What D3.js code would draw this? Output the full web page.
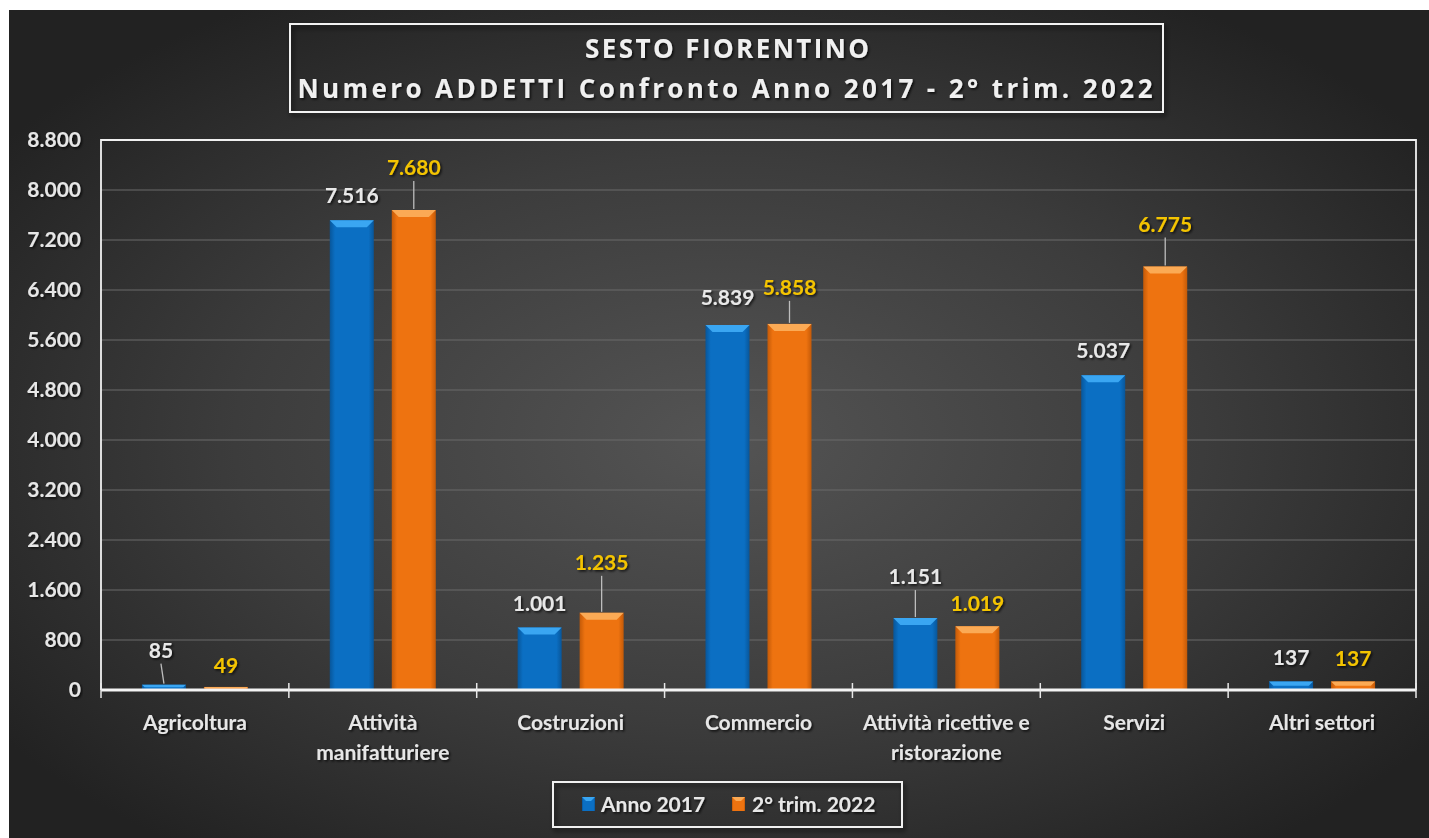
<!DOCTYPE html>
<html>
<head>
<meta charset="utf-8">
<script src="https://cdn.jsdelivr.net/npm/d3@7"></script>
<style>
  html, body { margin: 0; padding: 0; background: #ffffff; }
  svg { display: block; }
</style>
</head>
<body>
<svg id="chart" width="1429" height="838"></svg>
<script>
// ---------- DATA ----------
const categories = [
  "Agricoltura",
  "Attività manifatturiere",
  "Costruzioni",
  "Commercio",
  "Attività ricettive e ristorazione",
  "Servizi",
  "Altri settori"
];
const categoryLines = [
  ["Agricoltura"],
  ["Attività", "manifatturiere"],
  ["Costruzioni"],
  ["Commercio"],
  ["Attività ricettive e", "ristorazione"],
  ["Servizi"],
  ["Altri settori"]
];
const seriesNames = ["Anno 2017", "2° trim. 2022"];
const anno2017 = [85, 7516, 1001, 5839, 1151, 5037, 137];
const trim2022 = [49, 7680, 1235, 5858, 1019, 6775, 137];
const yTicks = [0, 800, 1600, 2400, 3200, 4000, 4800, 5600, 6400, 7200, 8000, 8800];
const titleLines = ["SESTO FIORENTINO", "Numero ADDETTI Confronto Anno 2017 - 2° trim. 2022"];

// label placement (offset of label centre above the bar top, px) – layout only
const labelDy2017 = [-34, -25, -24, -27, -41, -25, -24];
const labelDy2022 = [-21, -42, -50, -36, -23, -42, -23];
const labelDx2017 = [-3, 0, 0, 0, 0, 0, 0];

// ---------- LAYOUT ----------
const W = 1429, H = 838;
const plot = { left: 101, right: 1416, top: 140, bottom: 690 };
const colors = {
  a: { main: "#0b6fc3", light: "#3aa6f2", dark: "#08569a", label: "#e8e8e8" },
  b: { main: "#ee7310", light: "#fbaa55", dark: "#c45a08", label: "#f4c400" }
};
const fontFam = "Lato, 'Open Sans', sans-serif";
const fs = 21;

const svg = d3.select("#chart");
const defs = svg.append("defs");

// background gradient
const bg = defs.append("radialGradient").attr("id", "bgGrad")
  .attr("cx", "50%").attr("cy", "52%").attr("r", "62%");
bg.append("stop").attr("offset", "0%").attr("stop-color", "#545454");
bg.append("stop").attr("offset", "55%").attr("stop-color", "#3c3c3c");
bg.append("stop").attr("offset", "100%").attr("stop-color", "#222222");

// bar gradients (horizontal shading)
function barGrad(id, c) {
  const g = defs.append("linearGradient").attr("id", id)
    .attr("x1", "0%").attr("x2", "100%").attr("y1", "0%").attr("y2", "0%");
  g.append("stop").attr("offset", "0%").attr("stop-color", c.dark);
  g.append("stop").attr("offset", "12%").attr("stop-color", c.main);
  g.append("stop").attr("offset", "50%").attr("stop-color", c.main);
  g.append("stop").attr("offset", "88%").attr("stop-color", c.main);
  g.append("stop").attr("offset", "100%").attr("stop-color", c.dark);
}
barGrad("gradA", colors.a);
barGrad("gradB", colors.b);

// text shadow
const f = defs.append("filter").attr("id", "shadow")
  .attr("x", "-10%").attr("y", "-30%").attr("width", "120%").attr("height", "160%");
f.append("feDropShadow").attr("dx", 1.5).attr("dy", 1.5).attr("stdDeviation", 1.2)
  .attr("flood-color", "#000").attr("flood-opacity", 0.75);
const fb = defs.append("filter").attr("id", "boxShadow")
  .attr("x", "-5%").attr("y", "-10%").attr("width", "110%").attr("height", "130%");
fb.append("feDropShadow").attr("dx", 2).attr("dy", 3).attr("stdDeviation", 2.5)
  .attr("flood-color", "#000").attr("flood-opacity", 0.7);

// chart background
svg.append("rect").attr("x", 9).attr("y", 10).attr("width", W - 9).attr("height", H - 10)
  .attr("fill", "url(#bgGrad)");

// ---------- SCALES ----------
const x0 = d3.scaleBand().domain(categories).range([plot.left, plot.right]).padding(0);
const x1 = d3.scaleBand().domain(seriesNames).range([0, x0.bandwidth()])
  .paddingInner(0.29).paddingOuter(0.66);
const y = d3.scaleLinear().domain([0, 8800]).range([plot.bottom, plot.top]);

// gridlines
svg.append("g")
  .selectAll("line").data(yTicks.filter(t => t > 0 && t < 8800)).join("line")
  .attr("x1", plot.left).attr("x2", plot.right)
  .attr("y1", d => y(d)).attr("y2", d => y(d))
  .attr("stroke", "#6a6a6a").attr("stroke-width", 1.2);

// plot border (top, left, right)
svg.append("path")
  .attr("d", `M${plot.left},${plot.bottom} V${plot.top} H${plot.right} V${plot.bottom}`)
  .attr("fill", "none").attr("stroke", "#f0f0f0").attr("stroke-width", 1.8);

// y axis labels
const yAxis = d3.axisLeft(y).tickValues(yTicks)
  .tickFormat(d => d3.format(",")(d).replace(/,/g, ".")).tickSize(0).tickPadding(20);
const yg = svg.append("g").attr("transform", `translate(${plot.left},0)`).call(yAxis);
yg.select(".domain").remove();
yg.selectAll("text").attr("fill", "#e6e6e6").attr("font-family", fontFam)
  .attr("font-weight", 700).attr("font-size", fs).attr("filter", "url(#shadow)");

// ---------- BARS ----------
const rows = categories.map((c, i) => ({
  cat: c, i,
  vals: [
    { s: seriesNames[0], v: anno2017[i], c: colors.a, grad: "url(#gradA)", dy: labelDy2017[i], dx: labelDx2017[i] },
    { s: seriesNames[1], v: trim2022[i], c: colors.b, grad: "url(#gradB)", dy: labelDy2022[i], dx: 0 }
  ]
}));

const groups = svg.append("g").selectAll("g").data(rows).join("g")
  .attr("transform", d => `translate(${x0(d.cat)},0)`);

const bars = groups.selectAll("g.bar").data(d => d.vals).join("g").attr("class", "bar");
bars.append("rect")
  .attr("x", d => x1(d.s)).attr("y", d => y(d.v))
  .attr("width", x1.bandwidth()).attr("height", d => y(0) - y(d.v))
  .attr("fill", d => d.grad);
// top bevel
bars.append("path").attr("d", d => {
  const x = x1(d.s), w = x1.bandwidth(), t = y(d.v), h = y(0) - t;
  const b = Math.min(7, h / 2);
  return `M${x},${t} H${x + w} L${x + w - b},${t + b} H${x + b} Z`;
}).attr("fill", d => d.c.light);

// ---------- X AXIS ----------
svg.append("line").attr("x1", plot.left).attr("x2", plot.right)
  .attr("y1", plot.bottom).attr("y2", plot.bottom)
  .attr("stroke", "#f4f4f4").attr("stroke-width", 3);
const bounds = categories.map(c => x0(c)).concat([plot.right]);
svg.append("g").selectAll("line").data(bounds).join("line")
  .attr("x1", d => d).attr("x2", d => d)
  .attr("y1", plot.bottom - 7).attr("y2", plot.bottom + 8)
  .attr("stroke", "#e8e8e8").attr("stroke-width", 1.5);

const xl = svg.append("g").selectAll("text").data(rows).join("text")
  .attr("x", d => x0(d.cat) + x0.bandwidth() / 2)
  .attr("y", 730)
  .attr("text-anchor", "middle")
  .attr("fill", "#e6e6e6").attr("font-family", fontFam)
  .attr("font-weight", 700).attr("font-size", fs).attr("filter", "url(#shadow)");
xl.selectAll("tspan").data(d => categoryLines[d.i]).join("tspan")
  .attr("x", function () { return d3.select(this.parentNode).attr("x"); })
  .attr("dy", (d, i) => i === 0 ? 0 : 30)
  .text(d => d);

// ---------- DATA LABELS ----------
const fmt = v => d3.format(",")(v).replace(/,/g, ".");
const lbl = groups.selectAll("g.lbl").data(d => d.vals).join("g").attr("class", "lbl");
lbl.filter(d => d.dy < -30).append("line")
  .attr("x1", d => x1(d.s) + x1.bandwidth() / 2 + d.dx)
  .attr("x2", d => x1(d.s) + x1.bandwidth() / 2)
  .attr("y1", d => y(d.v) + d.dy + 13)
  .attr("y2", d => y(d.v) - 1)
  .attr("stroke", "#bdbdbd").attr("stroke-width", 1.3);
lbl.append("text")
  .attr("x", d => x1(d.s) + x1.bandwidth() / 2 + d.dx)
  .attr("y", d => y(d.v) + d.dy)
  .attr("dy", "0.35em")
  .attr("text-anchor", "middle")
  .attr("fill", d => d.c.label).attr("font-family", fontFam)
  .attr("font-weight", 700).attr("font-size", fs).attr("filter", "url(#shadow)")
  .text(d => fmt(d.v));

// ---------- TITLE ----------
svg.append("rect").attr("x", 290).attr("y", 24).attr("width", 873).attr("height", 88)
  .attr("fill", "none").attr("stroke", "#f2f2f2").attr("stroke-width", 2)
  .attr("filter", "url(#boxShadow)");
svg.append("text").attr("x", 727).attr("y", 58).attr("text-anchor", "middle")
  .attr("fill", "#f0f0f0").attr("font-family", "'Open Sans', sans-serif")
  .attr("font-weight", 700).attr("font-size", 26)
  .attr("textLength", 284).attr("lengthAdjust", "spacing")
  .attr("filter", "url(#shadow)").text(titleLines[0]);
svg.append("text").attr("x", 725).attr("y", 98).attr("text-anchor", "middle")
  .attr("fill", "#f0f0f0").attr("font-family", "'Open Sans', sans-serif")
  .attr("font-weight", 700).attr("font-size", 26)
  .attr("textLength", 855).attr("lengthAdjust", "spacing")
  .attr("filter", "url(#shadow)").text(titleLines[1]);

// ---------- LEGEND ----------
const lg = svg.append("g");
lg.append("rect").attr("x", 553).attr("y", 782).attr("width", 349).attr("height", 45)
  .attr("fill", "none").attr("stroke", "#f0f0f0").attr("stroke-width", 2)
  .attr("filter", "url(#boxShadow)");
const legendItems = [
  { name: seriesNames[0], c: colors.a, grad: "url(#gradA)", mx: 582, tx: 601 },
  { name: seriesNames[1], c: colors.b, grad: "url(#gradB)", mx: 732, tx: 752 }
];
const li = lg.selectAll("g.li").data(legendItems).join("g").attr("class", "li");
li.append("rect").attr("x", d => d.mx).attr("y", 797).attr("width", 13).attr("height", 14)
  .attr("fill", d => d.grad);
li.append("path").attr("d", d => `M${d.mx},797 H${d.mx + 13} L${d.mx + 9},801 H${d.mx + 4} Z`)
  .attr("fill", d => d.c.light);
li.append("text").attr("x", d => d.tx).attr("y", 805).attr("dy", "0.35em")
  .attr("fill", "#e8e8e8").attr("font-family", fontFam)
  .attr("font-weight", 700).attr("font-size", fs).attr("filter", "url(#shadow)")
  .text(d => d.name);
</script>
</body>
</html>
